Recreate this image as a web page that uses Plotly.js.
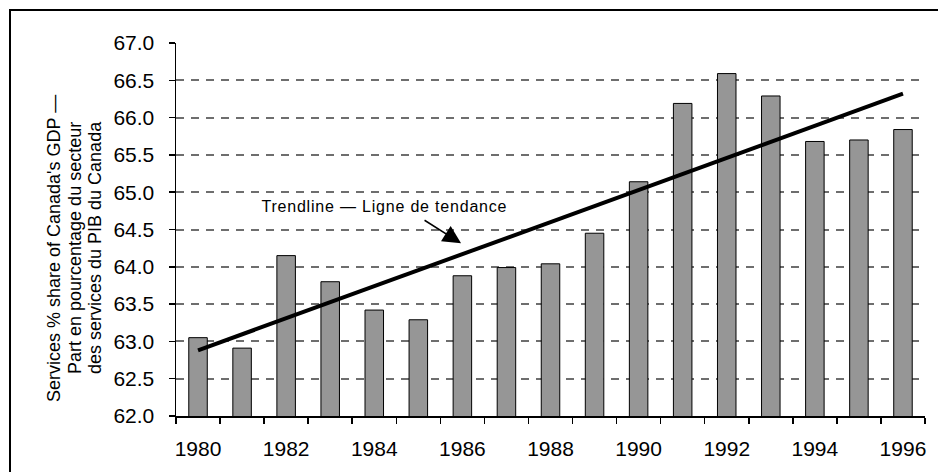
<!DOCTYPE html>
<html>
<head>
<meta charset="utf-8">
<script src="https://cdn.plot.ly/plotly-3.0.1.min.js"></script>
<style>
html, body { margin: 0; padding: 0; background: #fff; overflow: hidden; }
#chart { width: 938px; height: 472px; }
</style>
</head>
<body>
<div id="chart"></div>
<script>
const years = [1980, 1981, 1982, 1983, 1984, 1985, 1986, 1987, 1988, 1989, 1990, 1991, 1992, 1993, 1994, 1995, 1996];
const servicesShare = [63.05, 62.91, 64.15, 63.80, 63.42, 63.29, 63.88, 63.99, 64.04, 64.45, 65.14, 66.19, 66.59, 66.29, 65.68, 65.70, 65.84];
const trendYears = [1980, 1996];
const trendValues = [62.88, 66.32];
const xTickVals = [1980, 1982, 1984, 1986, 1988, 1990, 1992, 1994, 1996];
const xTickText = ['1980', '1982', '1984', '1986', '1988', '1990', '1992', '1994', '1996'];
const titleLines = ["Services % share of Canada's GDP \u2014", "Part en pourcentage du secteur", "des services du PIB du Canada"];
const trendLabel = "Trendline \u2014 Ligne de tendance";

const font = 'Arial, "Liberation Sans", sans-serif';

const traces = [
  {
    type: 'bar',
    x: years,
    y: servicesShare,
    width: 0.42,
    marker: { color: '#969696', line: { color: '#000', width: 1 } },
    hoverinfo: 'x+y'
  },
  {
    type: 'scatter',
    mode: 'lines',
    x: trendYears,
    y: trendValues,
    line: { color: '#000', width: 4 },
    hoverinfo: 'skip'
  }
];

const L = 176, R = 13, T = 43, B = 56;
const W = 938, H = 472;
const pw = W - L - R, ph = H - T - B;
function px2paperX(px) { return (px - L) / pw; }
function px2paperY(py) { return (H - B - py) / ph; }

const titleX = [54, 75, 95];
const annotations = titleLines.map((t, i) => ({
  xref: 'paper', yref: 'paper',
  x: px2paperX(titleX[i]), y: px2paperY(248),
  xanchor: 'center', yanchor: 'middle',
  text: t, textangle: -90, showarrow: false,
  font: { family: font, size: 18, color: '#000' }
}));
annotations.push({
  xref: 'x', yref: 'y',
  x: 1984.23, y: 64.806,
  xanchor: 'center', yanchor: 'middle',
  text: trendLabel, showarrow: false,
  font: { family: font, size: 16, color: '#000' }
});
annotations.push({
  xref: 'x', yref: 'y',
  x: 1985.97, y: 64.315,
  ax: -38, ay: -24,
  text: '', showarrow: true,
  arrowhead: 2, arrowsize: 2.4, arrowwidth: 1.5, arrowcolor: '#000',
  standoff: 0
});

const layout = {
  width: W, height: H,
  margin: { l: L, r: R, t: T, b: B, pad: 0 },
  paper_bgcolor: '#fff',
  plot_bgcolor: '#fff',
  showlegend: false,
  font: { family: font, size: 21, color: '#000' },
  xaxis: {
    type: 'linear',
    range: [1979.5, 1996.5],
    tickmode: 'array',
    tickvals: xTickVals,
    ticktext: xTickText,
    ticks: '',
    ticklabelstandoff: 13,
    showgrid: false,
    zeroline: false,
    showline: true,
    linecolor: '#000',
    linewidth: 1.5,
    tickfont: { family: font, size: 21, color: '#000' },
    minor: {
      tick0: 1979.5, dtick: 1,
      ticks: 'outside', ticklen: 6, tickwidth: 1.5, tickcolor: '#000',
      showgrid: false
    },
    fixedrange: true
  },
  yaxis: {
    range: [62, 67],
    dtick: 0.5,
    tick0: 62,
    tickformat: '.1f',
    ticks: 'outside',
    ticklen: 6,
    tickwidth: 1.5,
    tickcolor: '#000',
    ticklabelstandoff: 10,
    showline: true,
    linecolor: '#000',
    linewidth: 1.5,
    showgrid: true,
    gridcolor: '#6e6e6e',
    gridwidth: 2,
    griddash: '8px,7px',
    zeroline: false,
    tickfont: { family: font, size: 21, color: '#000' },
    fixedrange: true
  },
  annotations: annotations,
  shapes: [
    {
      type: 'line', xref: 'paper', yref: 'paper',
      x0: px2paperX(9), x1: px2paperX(938),
      y0: px2paperY(10), y1: px2paperY(10),
      line: { color: '#000', width: 2 },
      layer: 'above'
    },
    {
      type: 'line', xref: 'paper', yref: 'paper',
      x0: px2paperX(10), x1: px2paperX(10),
      y0: px2paperY(9), y1: px2paperY(472),
      line: { color: '#000', width: 2 },
      layer: 'above'
    }
  ]
};

Plotly.newPlot('chart', traces, layout, { displayModeBar: false, staticPlot: true }).then(() => {
  document.querySelectorAll('.annotation-text').forEach(el => {
    if (el.textContent.indexOf('Trendline') === 0) {
      el.style.letterSpacing = '0.8px';
    }
  });
});
</script>
</body>
</html>
